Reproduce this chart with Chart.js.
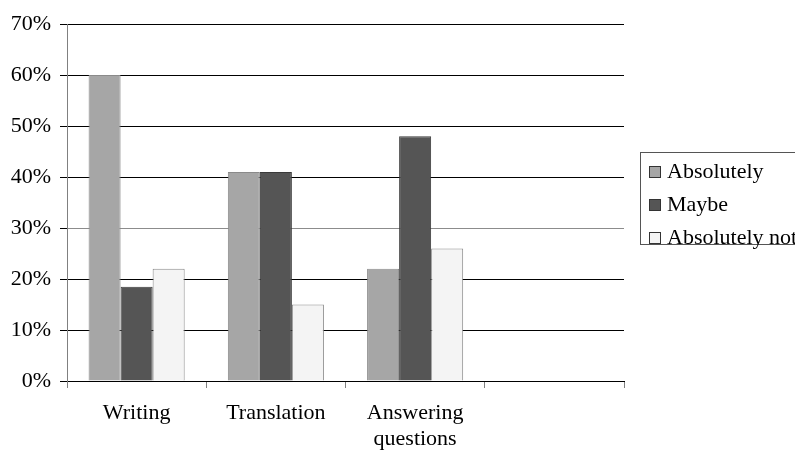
<!DOCTYPE html>
<html>
<head>
<meta charset="utf-8">
<script src="https://cdn.jsdelivr.net/npm/chart.js@4.4.1/dist/chart.umd.min.js"></script>
<style>
  html, body { margin: 0; padding: 0; background: #fff; overflow: hidden; }
  #wrap { position: relative; width: 795px; height: 453px; }
</style>
</head>
<body>
<div id="wrap"><canvas id="c" width="795" height="453"></canvas></div>
<script>
// Survey answers per task type (percent of respondents)
const categories = ['Writing', 'Translation', ['Answering', 'questions'], ''];
const seriesNames = ['Absolutely', 'Maybe', 'Absolutely not'];
const absolutely = [60, 41, 22, null];
const maybe = [18.5, 41, 48, null];
const absolutelyNot = [22, 15, 26, null];
const yTicks = [0, 10, 20, 30, 40, 50, 60, 70];

const SERIF = '"Liberation Serif", "Times New Roman", serif';
const fills = ['#a6a6a6', '#555555', '#f4f4f4'];
const edges = ['#8a8a8a', '#3a3a3a', '#8a8a8a'];

// Boxed legend on the right, drawn from the datasets themselves
const boxedLegend = {
  id: 'boxedLegend',
  afterDraw(chart) {
    const ctx = chart.ctx;
    const x0 = 640.5, y0 = 152.5, w = 200, h = 92;
    ctx.save();
    ctx.fillStyle = '#fff';
    ctx.fillRect(x0, y0, w, h);
    ctx.strokeStyle = '#555';
    ctx.lineWidth = 1;
    ctx.strokeRect(x0, y0, w, h);
    ctx.font = '22px ' + SERIF;
    ctx.textBaseline = 'alphabetic';
    chart.data.datasets.forEach((ds, i) => {
      const base = 177.5 + i * 33;
      ctx.fillStyle = ds.backgroundColor;
      ctx.fillRect(649.5, base - 11, 11, 11);
      ctx.strokeStyle = '#333';
      ctx.strokeRect(649.5, base - 11, 11, 11);
      ctx.fillStyle = '#000';
      ctx.fillText(ds.label, 667, base);
    });
    ctx.restore();
  }
};

const values = [absolutely, maybe, absolutelyNot];

new Chart(document.getElementById('c'), {
  type: 'bar',
  data: {
    labels: categories,
    datasets: seriesNames.map((name, i) => ({
      label: name,
      data: values[i],
      backgroundColor: fills[i],
      borderColor: edges[i],
      borderWidth: 1,
      categoryPercentage: 0.69,
      barPercentage: 1.0
    }))
  },
  options: {
    responsive: false,
    animation: false,
    layout: { padding: { top: 24, right: 171, left: 0, bottom: 0 } },
    plugins: { legend: { display: false }, tooltip: { enabled: false } },
    scales: {
      x: {
        offset: true,
        grid: {
          offset: true,
          drawOnChartArea: false,
          drawTicks: true,
          tickLength: 7,
          color: '#808080'
        },
        border: { color: '#000', width: 1 },
        ticks: {
          color: '#000',
          font: { family: SERIF, size: 22, lineHeight: 1.15 },
          padding: 13,
          maxRotation: 0,
          autoSkip: false
        },
        afterFit(axis) { axis.height = 72; }
      },
      y: {
        min: 0,
        max: 70,
        afterBuildTicks(axis) { axis.ticks = yTicks.map(v => ({ value: v })); },
        grid: {
          color: ctx => (ctx.tick && ctx.tick.value === 30 ? '#8c8c8c' : '#000'),
          tickColor: '#000',
          tickLength: 7,
          lineWidth: 1
        },
        border: { color: '#808080', width: 1 },
        ticks: {
          color: '#000',
          font: { family: SERIF, size: 22 },
          padding: 9,
          callback: v => v + '%'
        },
        afterFit(axis) { axis.width = 67; }
      }
    }
  },
  plugins: [boxedLegend]
});
</script>
</body>
</html>
